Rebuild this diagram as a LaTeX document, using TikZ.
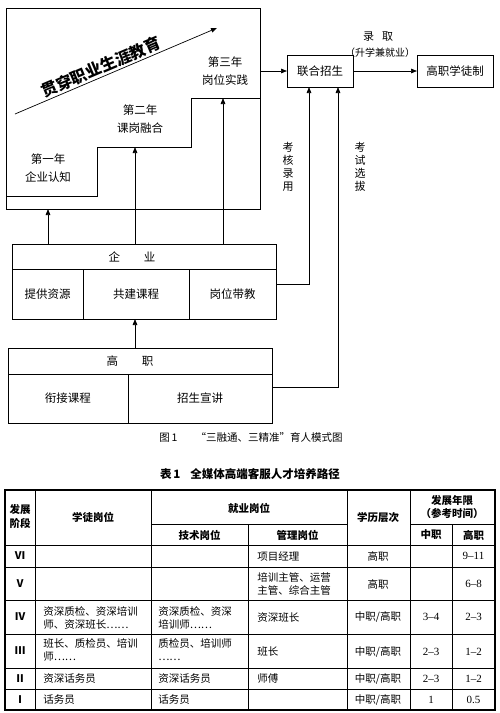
\documentclass[tikz,border=0pt]{standalone}
\usepackage{fontspec}
\setmainfont{Noto Sans CJK SC}
\newfontfamily\numf{Liberation Serif}
\usetikzlibrary{arrows.meta}
\begin{document}
\begin{tikzpicture}[x=1pt,y=-1pt,line width=0.7pt,
  arr/.style={-{Triangle[length=6pt,width=4.6pt]}},
  box/.style={draw,rectangle,inner sep=0pt,outer sep=0pt,font=\fontsize{11.5}{14}\selectfont},
  lbl/.style={inner sep=0pt,align=center,font=\fontsize{11.5}{18}\selectfont},
  vlbl/.style={inner sep=0pt,align=center,font=\fontsize{11}{13}\selectfont},
  th/.style={inner sep=0pt,align=center,font=\bfseries\fontsize{10.5}{13.5}\selectfont},
  td/.style={inner sep=0pt,align=left,anchor=west,font=\fontsize{10.5}{13}\selectfont},
  tc/.style={inner sep=0pt,align=center,font=\fontsize{10.5}{13}\selectfont},
  tn/.style={inner sep=0pt,align=center,font=\numf\fontsize{11}{13}\selectfont},
  grid/.style={line width=0.6pt},
  outer/.style={line width=1.3pt}]
\useasboundingbox[fill=white] (0,0) rectangle (499,713);

% ---------- figure 1 ----------
\node[box,minimum width=254pt,minimum height=201pt] (career) at (133,108.5) {};
\draw (6,196) -- (97,196) -- (97,147) -- (191,147) -- (191,98) -- (260,98);
\coordinate (s1) at (48,209);
\coordinate (s2) at (135,147);
\coordinate (s3) at (223,98);
\coordinate (d1) at (15,114);
\coordinate (d2) at (217,28);
\draw[arr] (d1) -- (d2);
\node[inner sep=0pt,rotate=23,font=\bfseries\fontsize{16}{16}\selectfont] (title) at (101,67) {贯穿职业生涯教育};
\node[lbl] (y3) at (225,71) {第三年\\岗位实践};
\node[lbl] (y2) at (140,119.5) {第二年\\课岗融合};
\node[lbl] (y1) at (48,168.5) {第一年\\企业认知};

\node[box,minimum width=66pt,minimum height=32pt] (lh) at (320,71) {联合招生};
\node[box,minimum width=76pt,minimum height=32pt] (zy) at (455,71) {高职学徒制};
\node[inner sep=0pt,font=\fontsize{11}{13}\selectfont] (lq) at (378,37) {录\hspace{8pt}取};
\node[inner sep=0pt,font=\fontsize{10}{12}\selectfont] (sx) at (380,53) {（升学兼就业）};

\node[box,minimum width=264pt,minimum height=25pt] (qyhead) at (144,256.5) {\hspace*{-24pt}企\hspace{24pt}业};
\node[box,minimum width=71pt,minimum height=50pt] (c1) at (47.5,294) {提供资源};
\node[box,minimum width=106pt,minimum height=50pt] (c2) at (136,294) {共建课程};
\node[box,minimum width=87pt,minimum height=50pt] (c3) at (232.5,294) {岗位带教};

\node[box,minimum width=264pt,minimum height=26pt] (ghead) at (140,361) {\hspace*{-20pt}高\hspace{24pt}职};
\node[box,minimum width=120pt,minimum height=49pt] (g1) at (68,398.5) {衔接课程};
\node[box,minimum width=144pt,minimum height=49pt] (g2) at (200,398.5) {招生宣讲};

\draw[arr] (s1 |- qyhead.north) -- (s1);
\draw[arr] (s2 |- qyhead.north) -- (s2);
\draw[arr] (s3 |- qyhead.north) -- (s3);
\draw[arr] (s2 |- ghead.north) -- (s2 |- c2.south);
\draw[arr] (career.east |- lh.west) -- (lh.west);
\draw[arr] (lh.east) -- (zy.west);
\draw[arr] ([yshift=10pt]c3.east) -| ([xshift=-11pt]lh.south);
\draw[arr] ([yshift=11.5pt]g2.east) -| ([xshift=18pt]lh.south);
\node[vlbl] (kh) at (288,167) {考\\核\\录\\用};
\node[vlbl] (ks) at (360,167) {考\\试\\选\\拔};

\node[inner sep=0pt,font=\fontsize{10.5}{12}\selectfont] (cap) at (251,437) {图\,1\hspace{18pt}“三融通、三精准”育人模式图};

% ---------- table 1 ----------
\node[inner sep=0pt,font=\bfseries\fontsize{11.5}{13}\selectfont] (tt) at (250,474) {表\,1\hspace{10pt}全媒体高端客服人才培养路径};

\draw[grid] (5,545) -- (495,545);
\foreach \yy in {567,600,634,668,689} \draw[grid] (5,\yy) -- (495,\yy);
\draw[grid] (151,524) -- (347,524);
\draw[grid] (410,524) -- (495,524);
\foreach \xx in {35,151,347,410} \draw[grid] (\xx,490) -- (\xx,710);
\foreach \xx in {248,452} \draw[grid] (\xx,524) -- (\xx,710);
\draw[outer] (5,490) rectangle (495,710);

\node[th] at (20,516.5) {发展\\阶段};
\node[th] at (93,517) {学徒岗位};
\node[th] at (249,508) {就业岗位};
\node[th] at (199.5,535) {技术岗位};
\node[th] at (297.5,535) {管理岗位};
\node[th] at (378,518) {学历层次};
\node[th] at (452,507) {发展年限\\（参考时间）};
\node[th] at (431,535) {中职};
\node[th] at (473.5,535) {高职};

% rows
\node[th] at (20,556) {Ⅵ};
\node[td] at (257,556) {项目经理};
\node[tc] at (378,556) {高职};
\node[tn] at (473.5,556) {9–11};

\node[th] at (20,584) {Ⅴ};
\node[td] at (257,583.5) {培训主管、运营\\主管、综合主管};
\node[tc] at (378,584) {高职};
\node[tn] at (473.5,584) {6–8};

\node[th] at (20,617) {Ⅳ};
\node[td] at (43,618) {资深质检、资深培训\\师、资深班长……};
\node[td] at (158,618) {资深质检、资深\\培训师……};
\node[td] at (257,618) {资深班长};
\node[tc] at (378,617) {中职/高职};
\node[tn] at (431,617) {3–4};
\node[tn] at (473.5,617) {2–3};

\node[th] at (20,651) {Ⅲ};
\node[td] at (43,650) {班长、质检员、培训\\师……};
\node[td] at (158,650) {质检员、培训师\\……};
\node[td] at (257,652) {班长};
\node[tc] at (378,652) {中职/高职};
\node[tn] at (431,652) {2–3};
\node[tn] at (473.5,652) {1–2};

\node[th] at (20,679) {Ⅱ};
\node[td] at (43,679) {资深话务员};
\node[td] at (158,679) {资深话务员};
\node[td] at (257,679) {师傅};
\node[tc] at (378,679) {中职/高职};
\node[tn] at (431,679) {2–3};
\node[tn] at (473.5,679) {1–2};

\node[th] at (20,700) {Ⅰ};
\node[td] at (43,700) {话务员};
\node[td] at (158,700) {话务员};
\node[tc] at (378,700) {中职/高职};
\node[tn] at (431,700) {1};
\node[tn] at (473.5,700) {0.5};
\end{tikzpicture}
\end{document}
